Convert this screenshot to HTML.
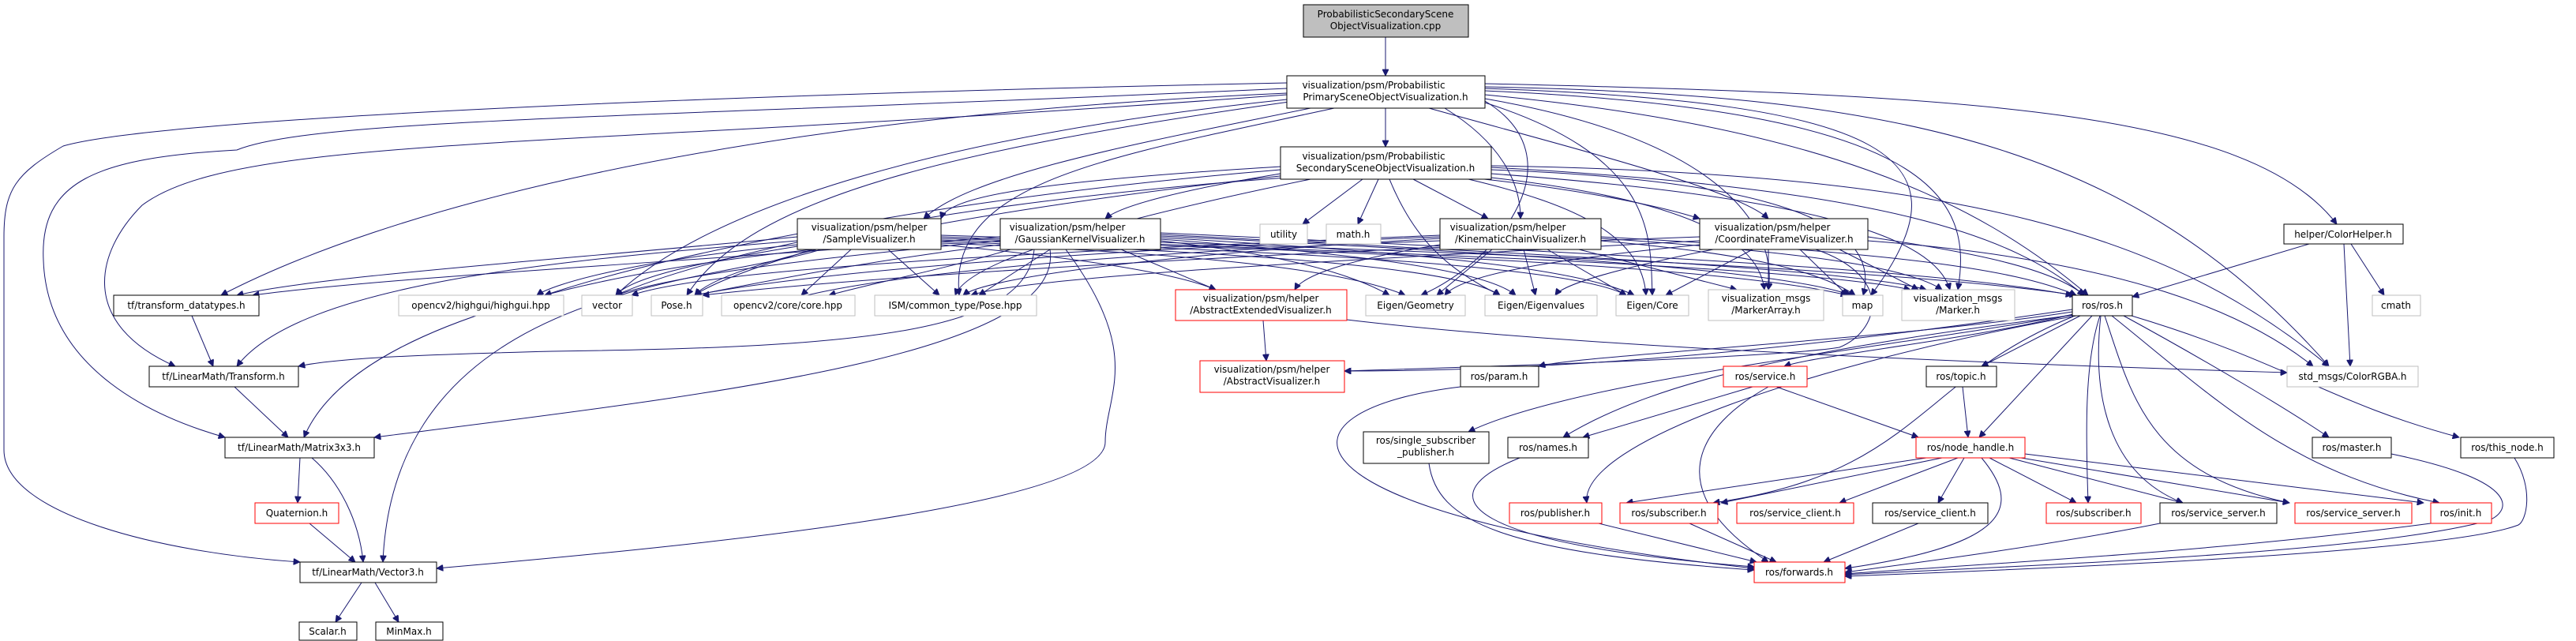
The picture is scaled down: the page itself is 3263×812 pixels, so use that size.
<!DOCTYPE html>
<html><head><meta charset="utf-8"><style>
html,body{margin:0;padding:0;background:#fff;}
svg{display:block;}
text{font-family:"DejaVu Sans","Liberation Sans",sans-serif;font-size:12px;fill:#000;text-anchor:middle;}
.e path{fill:none;stroke:#191970;stroke-width:1;}
.n rect{fill:#fff;stroke:#000;stroke-width:1;}
.g rect{fill:#fff;stroke:#bfbfbf;stroke-width:1;}
.r rect{fill:#fff;stroke:#ff0000;stroke-width:1;}
</style></head><body>
<svg width="3263" height="812" viewBox="0 0 3263 812" xmlns="http://www.w3.org/2000/svg">
<defs><marker id="a" viewBox="0 0 10 10" refX="10" refY="5" markerWidth="10" markerHeight="8" orient="auto" markerUnits="userSpaceOnUse"><path d="M0,0 L10,5 L0,10 z" fill="#191970" stroke="#191970"/></marker></defs>
<g class="e" marker-end="url(#a)">
<path marker-end="url(#a)" d="M1755 47 L1755 96"/>
<!-- Primary -->
<path marker-end="url(#a)" d="M1755 137 L1755 186"/>
<path marker-end="url(#a)" d="M1630 118 C 900 150, 480 270, 280 374"/>
<path marker-end="url(#a)" d="M1630 120 C 700 190, 300 170, 180 260 C 120 320, 100 410, 222 464"/>
<path marker-end="url(#a)" d="M1630 112 C 800 150, 400 150, 300 190 C 120 200, 50 230, 55 330 C 60 470, 200 530, 285 554"/>
<path marker-end="url(#a)" d="M1630 105 C 900 120, 200 150, 80 185 C 20 220, 5 240, 5 300 L5 570 C 5 650, 200 700, 380 712"/>
<path marker-end="url(#a)" d="M1660 137 C 1450 180, 1230 220, 1170 277"/>
<path marker-end="url(#a)" d="M1830 137 C 1900 180, 1926 230, 1926 277"/>
<path marker-end="url(#a)" d="M1810 137 C 2000 190, 2200 240, 2240 277"/>
<path marker-end="url(#a)" d="M1640 125 C 1200 170, 900 260, 780 374"/>
<path marker-end="url(#a)" d="M1640 128 C 1200 190, 950 250, 870 374"/>
<path marker-end="url(#a)" d="M1690 137 C 1400 200, 1200 230, 1215 374"/>
<path marker-end="url(#a)" d="M1881 112 C 2400 130, 2500 200, 2370 374"/>
<path marker-end="url(#a)" d="M1881 115 C 2450 140, 2500 250, 2480 367"/>
<path marker-end="url(#a)" d="M1881 120 C 2300 160, 2500 250, 2645 374"/>
<path marker-end="url(#a)" d="M1881 110 C 2400 120, 2700 180, 2950 464"/>
<path marker-end="url(#a)" d="M1881 106 C 2500 120, 2850 140, 2960 284"/>
<path marker-end="url(#a)" d="M1881 125 C 2200 180, 2250 300, 2240 367"/>
<path marker-end="url(#a)" d="M1881 130 C 2100 200, 2090 300, 2093 374"/>
<path marker-end="url(#a)" d="M1881 128 C 2000 200, 1900 330, 1800 374"/>
<!-- Secondary -->
<path marker-end="url(#a)" d="M1640 210 C 1300 230, 1200 250, 1192 277"/>
<path marker-end="url(#a)" d="M1622 220 C 1500 240, 1420 260, 1400 277"/>
<path marker-end="url(#a)" d="M1790 227 L1885 277"/>
<path marker-end="url(#a)" d="M1880 227 C 2000 240, 2100 260, 2153 277"/>
<path marker-end="url(#a)" d="M1726 227 L1650 284"/>
<path marker-end="url(#a)" d="M1746 227 L1720 284"/>
<path marker-end="url(#a)" d="M1630 225 C 1150 260, 880 330, 780 374"/>
<path marker-end="url(#a)" d="M1630 222 C 1200 270, 920 330, 880 374"/>
<path marker-end="url(#a)" d="M1660 227 C 1500 260, 1230 320, 1210 374"/>
<path marker-end="url(#a)" d="M1622 215 C 1200 250, 850 320, 690 374"/>
<path marker-end="url(#a)" d="M1760 227 C 1790 300, 1830 340, 1900 374"/>
<path marker-end="url(#a)" d="M1860 227 C 2000 260, 2080 300, 2085 374"/>
<path marker-end="url(#a)" d="M1889 215 C 2300 230, 2380 300, 2360 374"/>
<path marker-end="url(#a)" d="M1889 220 C 2300 250, 2450 300, 2470 367"/>
<path marker-end="url(#a)" d="M1889 225 C 2200 260, 2230 330, 2235 367"/>
<path marker-end="url(#a)" d="M1889 212 C 2400 240, 2550 300, 2640 374"/>
<path marker-end="url(#a)" d="M1889 210 C 2500 220, 2750 300, 2950 464"/>
<!-- Sample -->
<path marker-end="url(#a)" d="M1010 300 C 700 330, 400 350, 300 374"/>
<path marker-end="url(#a)" d="M1010 305 C 700 330, 380 360, 300 464"/>
<path marker-end="url(#a)" d="M1030 316 C 800 340, 450 400, 385 554"/>
<path marker-end="url(#a)" d="M1040 316 C 900 360, 500 360, 485 712"/>
<path marker-end="url(#a)" d="M1010 310 C 800 330, 700 360, 680 374"/>
<path marker-end="url(#a)" d="M1010 312 C 900 330, 800 350, 780 374"/>
<path marker-end="url(#a)" d="M1030 316 C 950 340, 900 360, 880 374"/>
<path marker-end="url(#a)" d="M1078 316 L1015 374"/>
<path marker-end="url(#a)" d="M1125 316 L1190 374"/>
<path marker-end="url(#a)" d="M1192 310 C 1400 330, 1500 350, 1540 367"/>
<path marker-end="url(#a)" d="M1192 308 C 1500 320, 1700 340, 1780 374"/>
<path marker-end="url(#a)" d="M1192 306 C 1600 320, 1850 340, 1900 374"/>
<path marker-end="url(#a)" d="M1192 304 C 1700 320, 2000 340, 2060 374"/>
<path marker-end="url(#a)" d="M1192 302 C 1800 320, 2200 340, 2340 374"/>
<path marker-end="url(#a)" d="M1192 300 C 1800 320, 2300 340, 2420 367"/>
<path marker-end="url(#a)" d="M1192 298 C 1900 320, 2400 340, 2630 374"/>
<!-- Gaussian -->
<path marker-end="url(#a)" d="M1267 300 C 900 330, 500 350, 320 374"/>
<path marker-end="url(#a)" d="M1310 316 C 1300 420, 1100 440, 700 445 C 500 450, 420 455, 378 464"/>
<path marker-end="url(#a)" d="M1330 316 C 1350 450, 900 500, 474 554"/>
<path marker-end="url(#a)" d="M1350 316 C 1450 450, 1400 500, 1400 560 C 1400 640, 900 690, 553 720"/>
<path marker-end="url(#a)" d="M1267 305 C 1000 330, 850 350, 780 374"/>
<path marker-end="url(#a)" d="M1267 310 C 1100 330, 950 360, 880 374"/>
<path marker-end="url(#a)" d="M1280 316 C 1200 340, 1100 360, 1050 374"/>
<path marker-end="url(#a)" d="M1330 316 L1240 374"/>
<path marker-end="url(#a)" d="M1420 316 L1540 367"/>
<path marker-end="url(#a)" d="M1470 305 C 1600 320, 1700 340, 1760 374"/>
<path marker-end="url(#a)" d="M1470 303 C 1700 320, 1880 340, 1920 374"/>
<path marker-end="url(#a)" d="M1470 301 C 1800 320, 2000 340, 2070 374"/>
<path marker-end="url(#a)" d="M1470 299 C 1900 320, 2250 340, 2345 374"/>
<path marker-end="url(#a)" d="M1470 297 C 1900 320, 2350 340, 2440 367"/>
<path marker-end="url(#a)" d="M1470 295 C 2000 320, 2450 340, 2625 374"/>
<!-- Kinematic -->
<path marker-end="url(#a)" d="M1824 300 C 1300 320, 1000 350, 880 374"/>
<path marker-end="url(#a)" d="M1824 305 C 1400 320, 1100 350, 1000 380"/>
<path marker-end="url(#a)" d="M1824 302 C 1500 320, 1250 350, 1220 374"/>
<path marker-end="url(#a)" d="M1824 310 C 1700 330, 1650 350, 1640 367"/>
<path marker-end="url(#a)" d="M1890 316 L1820 374"/>
<path marker-end="url(#a)" d="M1930 316 L1945 374"/>
<path marker-end="url(#a)" d="M1960 316 L2060 374"/>
<path marker-end="url(#a)" d="M2000 316 L2200 367"/>
<path marker-end="url(#a)" d="M2028 305 C 2200 320, 2300 340, 2350 374"/>
<path marker-end="url(#a)" d="M2028 302 C 2300 320, 2420 340, 2460 367"/>
<path marker-end="url(#a)" d="M2028 300 C 2400 320, 2550 340, 2630 374"/>
<path marker-end="url(#a)" d="M1824 298 C 1300 320, 900 340, 800 374"/>
<!-- Coordinate -->
<path marker-end="url(#a)" d="M2153 300 C 1600 320, 1100 350, 890 374"/>
<path marker-end="url(#a)" d="M2153 305 C 1700 330, 1300 350, 1230 374"/>
<path marker-end="url(#a)" d="M2153 310 C 1950 330, 1850 350, 1830 374"/>
<path marker-end="url(#a)" d="M2170 316 C 2050 340, 1980 360, 1970 374"/>
<path marker-end="url(#a)" d="M2220 316 L2110 374"/>
<path marker-end="url(#a)" d="M2240 316 L2240 367"/>
<path marker-end="url(#a)" d="M2280 316 L2340 374"/>
<path marker-end="url(#a)" d="M2330 316 L2430 367"/>
<path marker-end="url(#a)" d="M2366 300 C 2500 320, 2600 340, 2640 374"/>
<path marker-end="url(#a)" d="M2366 305 C 2700 330, 2850 400, 2930 464"/>
<path marker-end="url(#a)" d="M2300 316 C 2400 350, 2380 420, 2330 440 C 2300 445, 2200 455, 1703 470"/>
<!-- ros.h -->
<path marker-end="url(#a)" d="M2625 395 C 2400 430, 2000 450, 1949 464"/>
<path marker-end="url(#a)" d="M2630 397 C 2500 430, 2300 450, 2260 464"/>
<path marker-end="url(#a)" d="M2628 398 C 2400 440, 2000 480, 1860 547"/>
<path marker-end="url(#a)" d="M2628 399 C 2300 440, 2100 480, 1980 554"/>
<path marker-end="url(#a)" d="M2635 400 L2510 464"/>
<path marker-end="url(#a)" d="M2650 400 L2507 554"/>
<path marker-end="url(#a)" d="M2625 392 C 2300 440, 2000 470, 1703 470"/>
<path marker-end="url(#a)" d="M2630 400 C 2300 460, 2000 560, 2010 637"/>
<path marker-end="url(#a)" d="M2626 401 C 2430 480, 2430 600, 2170 637"/>
<path marker-end="url(#a)" d="M2660 400 C 2640 460, 2642 550, 2645 637"/>
<path marker-end="url(#a)" d="M2661 400 C 2650 500, 2670 600, 2765 637"/>
<path marker-end="url(#a)" d="M2666 400 C 2700 500, 2720 600, 2900 637"/>
<path marker-end="url(#a)" d="M2675 400 C 2800 500, 2900 600, 3090 637"/>
<path marker-end="url(#a)" d="M2690 400 C 2800 460, 2900 520, 2950 554"/>
<path marker-end="url(#a)" d="M2700 400 C 2900 460, 2950 510, 3115 554"/>
<!-- ColorHelper -->
<path marker-end="url(#a)" d="M2925 309 L2701 376"/>
<path marker-end="url(#a)" d="M2969 309 L2977 464"/>
<path marker-end="url(#a)" d="M2978 309 L3020 374"/>
<!-- AbsExt -->
<path marker-end="url(#a)" d="M1600 406 L1604 457"/>
<path marker-end="url(#a)" d="M1706 405 C 2000 440, 2500 460, 2897 472"/>
<!-- tf -->
<path marker-end="url(#a)" d="M243 400 L270 464"/>
<path marker-end="url(#a)" d="M297 490 L365 554"/>
<path marker-end="url(#a)" d="M380 580 L377 637"/>
<path marker-end="url(#a)" d="M395 580 C 430 610, 455 660, 460 712"/>
<path marker-end="url(#a)" d="M392 663 L450 712"/>
<path marker-end="url(#a)" d="M458 738 L425 788"/>
<path marker-end="url(#a)" d="M475 738 L505 788"/>
<!-- ros lower -->
<path marker-end="url(#a)" d="M2220 490 L2005 554"/>
<path marker-end="url(#a)" d="M2250 490 L2430 554"/>
<path marker-end="url(#a)" d="M2240 490 C 2150 540, 2100 620, 2240 712"/>
<path marker-end="url(#a)" d="M2486 490 L2493 554"/>
<path marker-end="url(#a)" d="M2440 580 L2060 637"/>
<path marker-end="url(#a)" d="M2460 580 L2180 637"/>
<path marker-end="url(#a)" d="M2480 580 L2330 637"/>
<path marker-end="url(#a)" d="M2488 580 L2455 637"/>
<path marker-end="url(#a)" d="M2520 580 L2630 637"/>
<path marker-end="url(#a)" d="M2545 580 L2765 637"/>
<path marker-end="url(#a)" d="M2560 580 L2900 637"/>
<path marker-end="url(#a)" d="M2565 575 L3070 637"/>
<path marker-end="url(#a)" d="M2510 580 C 2560 640, 2550 690, 2337 720"/>
<path marker-end="url(#a)" d="M1850 490 C 1600 520, 1600 650, 2222 720"/>
<path marker-end="url(#a)" d="M1810 587 C 1820 660, 1900 700, 2222 722"/>
<path marker-end="url(#a)" d="M1925 580 C 1800 630, 1860 690, 2222 718"/>
<path marker-end="url(#a)" d="M2025 663 L2225 712"/>
<path marker-end="url(#a)" d="M2140 663 L2250 712"/>
<path marker-end="url(#a)" d="M2430 663 L2310 712"/>
<path marker-end="url(#a)" d="M2736 663 C 2600 690, 2450 710, 2337 725"/>
<path marker-end="url(#a)" d="M3079 663 C 2800 700, 2500 715, 2337 727"/>
<path marker-end="url(#a)" d="M3029 575 C 3200 610, 3180 650, 3150 660 C 3000 700, 2600 715, 2337 728"/>
<path marker-end="url(#a)" d="M3185 580 C 3210 620, 3200 660, 3190 665 C 3100 700, 2600 720, 2337 730"/>
</g>
<g class="n"><rect x="1651" y="6" width="209" height="41" style="fill:#bfbfbf"/><text x="1755" y="22">ProbabilisticSecondaryScene</text><text x="1755" y="37">ObjectVisualization.cpp</text></g>
<g class="n"><rect x="1630" y="96" width="251" height="41"/><text x="1740" y="112">visualization/psm/Probabilistic</text><text x="1755" y="127">PrimarySceneObjectVisualization.h</text></g>
<g class="n"><rect x="1622" y="186" width="267" height="41"/><text x="1740" y="202">visualization/psm/Probabilistic</text><text x="1755" y="217">SecondarySceneObjectVisualization.h</text></g>
<g class="n"><rect x="1010" y="277" width="182" height="39"/><text x="1101" y="292">visualization/psm/helper</text><text x="1101" y="307">/SampleVisualizer.h</text></g>
<g class="n"><rect x="1267" y="277" width="203" height="39"/><text x="1352" y="292">visualization/psm/helper</text><text x="1368" y="307">/GaussianKernelVisualizer.h</text></g>
<g class="n"><rect x="1824" y="277" width="204" height="39"/><text x="1910" y="292">visualization/psm/helper</text><text x="1926" y="307">/KinematicChainVisualizer.h</text></g>
<g class="n"><rect x="2153" y="277" width="213" height="39"/><text x="2245" y="292">visualization/psm/helper</text><text x="2260" y="307">/CoordinateFrameVisualizer.h</text></g>
<g class="g"><rect x="1596" y="284" width="60" height="25"/><text x="1626" y="301">utility</text></g>
<g class="g"><rect x="1680" y="284" width="69" height="25"/><text x="1714" y="301">math.h</text></g>
<g class="n"><rect x="2893" y="284" width="151" height="25"/><text x="2968" y="301">helper/ColorHelper.h</text></g>
<g class="n"><rect x="144" y="374" width="184" height="26"/><text x="236" y="391">tf/transform_datatypes.h</text></g>
<g class="g"><rect x="505" y="374" width="209" height="26"/><text x="609" y="391">opencv2/highgui/highgui.hpp</text></g>
<g class="g"><rect x="737" y="374" width="64" height="26"/><text x="769" y="391">vector</text></g>
<g class="g"><rect x="825" y="374" width="65" height="26"/><text x="857" y="391">Pose.h</text></g>
<g class="g"><rect x="914" y="374" width="169" height="26"/><text x="998" y="391">opencv2/core/core.hpp</text></g>
<g class="g"><rect x="1108" y="374" width="205" height="26"/><text x="1210" y="391">ISM/common_type/Pose.hpp</text></g>
<g class="r"><rect x="1489" y="367" width="217" height="39"/><text x="1597" y="382">visualization/psm/helper</text><text x="1597" y="397">/AbstractExtendedVisualizer.h</text></g>
<g class="g"><rect x="1730" y="374" width="126" height="26"/><text x="1793" y="391">Eigen/Geometry</text></g>
<g class="g"><rect x="1881" y="374" width="142" height="26"/><text x="1952" y="391">Eigen/Eigenvalues</text></g>
<g class="g"><rect x="2047" y="374" width="92" height="26"/><text x="2093" y="391">Eigen/Core</text></g>
<g class="g"><rect x="2164" y="367" width="146" height="39"/><text x="2237" y="382">visualization_msgs</text><text x="2237" y="397">/MarkerArray.h</text></g>
<g class="g"><rect x="2334" y="374" width="51" height="26"/><text x="2359" y="391">map</text></g>
<g class="g"><rect x="2409" y="367" width="143" height="39"/><text x="2480" y="382">visualization_msgs</text><text x="2480" y="397">/Marker.h</text></g>
<g class="n"><rect x="2625" y="374" width="76" height="26"/><text x="2663" y="391">ros/ros.h</text></g>
<g class="g"><rect x="3005" y="374" width="61" height="26"/><text x="3035" y="391">cmath</text></g>
<g class="n"><rect x="189" y="464" width="189" height="26"/><text x="283" y="481">tf/LinearMath/Transform.h</text></g>
<g class="r"><rect x="1520" y="457" width="183" height="40"/><text x="1611" y="472">visualization/psm/helper</text><text x="1611" y="487">/AbstractVisualizer.h</text></g>
<g class="n"><rect x="1850" y="464" width="99" height="26"/><text x="1899" y="481">ros/param.h</text></g>
<g class="r"><rect x="2183" y="464" width="106" height="26"/><text x="2236" y="481">ros/service.h</text></g>
<g class="n"><rect x="2440" y="464" width="89" height="26"/><text x="2484" y="481">ros/topic.h</text></g>
<g class="g"><rect x="2897" y="464" width="166" height="26"/><text x="2980" y="481">std_msgs/ColorRGBA.h</text></g>
<g class="n"><rect x="285" y="554" width="189" height="26"/><text x="379" y="571">tf/LinearMath/Matrix3x3.h</text></g>
<g class="n"><rect x="1727" y="547" width="159" height="40"/><text x="1806" y="562">ros/single_subscriber</text><text x="1806" y="577">_publisher.h</text></g>
<g class="n"><rect x="1910" y="554" width="102" height="26"/><text x="1961" y="571">ros/names.h</text></g>
<g class="r"><rect x="2427" y="554" width="138" height="26"/><text x="2496" y="571">ros/node_handle.h</text></g>
<g class="n"><rect x="2929" y="554" width="100" height="26"/><text x="2979" y="571">ros/master.h</text></g>
<g class="n"><rect x="3117" y="554" width="118" height="26"/><text x="3176" y="571">ros/this_node.h</text></g>
<g class="r"><rect x="323" y="637" width="106" height="26"/><text x="376" y="654">Quaternion.h</text></g>
<g class="r"><rect x="1912" y="637" width="117" height="26"/><text x="1970" y="654">ros/publisher.h</text></g>
<g class="r"><rect x="2052" y="637" width="124" height="26"/><text x="2114" y="654">ros/subscriber.h</text></g>
<g class="r"><rect x="2200" y="637" width="148" height="26"/><text x="2274" y="654">ros/service_client.h</text></g>
<g class="n"><rect x="2372" y="637" width="146" height="26"/><text x="2445" y="654">ros/service_client.h</text></g>
<g class="r"><rect x="2592" y="637" width="120" height="26"/><text x="2652" y="654">ros/subscriber.h</text></g>
<g class="n"><rect x="2736" y="637" width="148" height="26"/><text x="2810" y="654">ros/service_server.h</text></g>
<g class="r"><rect x="2907" y="637" width="148" height="26"/><text x="2981" y="654">ros/service_server.h</text></g>
<g class="r"><rect x="3079" y="637" width="77" height="26"/><text x="3117" y="654">ros/init.h</text></g>
<g class="n"><rect x="380" y="712" width="173" height="26"/><text x="466" y="729">tf/LinearMath/Vector3.h</text></g>
<g class="r"><rect x="2222" y="712" width="115" height="26"/><text x="2279" y="729">ros/forwards.h</text></g>
<g class="n"><rect x="379" y="788" width="73" height="23"/><text x="415" y="804">Scalar.h</text></g>
<g class="n"><rect x="476" y="788" width="85" height="23"/><text x="518" y="804">MinMax.h</text></g>
</svg>
</body></html>
